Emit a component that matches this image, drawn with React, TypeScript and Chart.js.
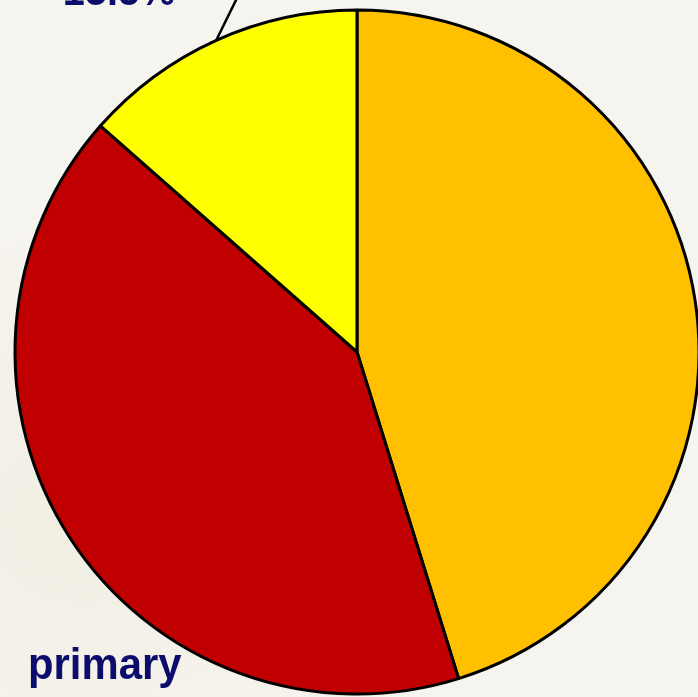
import React, { useEffect, useRef } from "react";
import { Chart, registerables } from "chart.js";

Chart.register(...registerables);

const categories: string[] = ["Segment A", "primary", "Segment C"];
const values: number[] = [45.2, 41.3, 13.5];
const sliceColors: string[] = ["#FFC000", "#C00000", "#FFFF00"];

const LABEL_FONT = 'bold 45px "Liberation Sans", Arial, Helvetica, sans-serif';
const LABEL_COLOR = "#0C0C6C";

const labelPlugin = {
  id: "sliceLabels",
  afterDatasetsDraw(chart: any) {
    const ctx: CanvasRenderingContext2D = chart.ctx;
    const meta = chart.getDatasetMeta(0);
    const total = values.reduce((a, b) => a + b, 0);

    // Leader line + percentage label for the third slice
    const arc = meta.data[2];
    const p = arc.getProps(["x", "y", "startAngle", "endAngle", "outerRadius"], true);
    const mid = (p.startAngle + p.endAngle) / 2;
    const sx = p.x + Math.cos(mid) * p.outerRadius;
    const sy = p.y + Math.sin(mid) * p.outerRadius;
    ctx.save();
    ctx.strokeStyle = "#000";
    ctx.lineWidth = 2.5;
    ctx.beginPath();
    ctx.moveTo(sx, sy);
    ctx.lineTo(237, -2);
    ctx.stroke();

    ctx.font = LABEL_FONT;
    ctx.fillStyle = LABEL_COLOR;
    ctx.textBaseline = "alphabetic";

    const pct = ((values[2] / total) * 100).toFixed(1) + "%";
    ctx.save();
    ctx.translate(119, 5);
    ctx.scale(0.88, 1);
    ctx.textAlign = "center";
    ctx.fillText(pct, 0, 0);
    ctx.restore();

    // Category label for the second slice
    ctx.save();
    ctx.translate(28, 679);
    ctx.scale(0.93, 1);
    ctx.textAlign = "left";
    ctx.fillText(categories[1], 0, 0);
    ctx.restore();

    ctx.restore();
  },
};

export default function App() {
  const canvasRef = useRef<HTMLCanvasElement | null>(null);

  useEffect(() => {
    if (!canvasRef.current) return;
    const chart = new Chart(canvasRef.current, {
      type: "pie",
      data: {
        labels: categories,
        datasets: [
          {
            data: values,
            backgroundColor: sliceColors,
            borderColor: "#000000",
            borderWidth: 3,
            radius: 342,
            clip: false,
          } as any,
        ],
      },
      options: {
        responsive: false,
        animation: false,
        devicePixelRatio: 1,
        layout: { padding: { left: 16, top: 7, right: 0, bottom: 0 } },
        plugins: {
          legend: { display: false },
          tooltip: { enabled: false },
        },
      },
      plugins: [labelPlugin],
    });
    return () => chart.destroy();
  }, []);

  return (
    <div
      style={{
        position: "fixed",
        left: 0,
        top: 0,
        width: 698,
        height: 697,
        background:
          "radial-gradient(ellipse at 12% 75%, rgba(238,234,220,0.6), rgba(246,244,238,0) 40%), #F6F4EE",
      }}
    >
      <canvas ref={canvasRef} width={698} height={697} style={{ display: "block" }} />
    </div>
  );
}
